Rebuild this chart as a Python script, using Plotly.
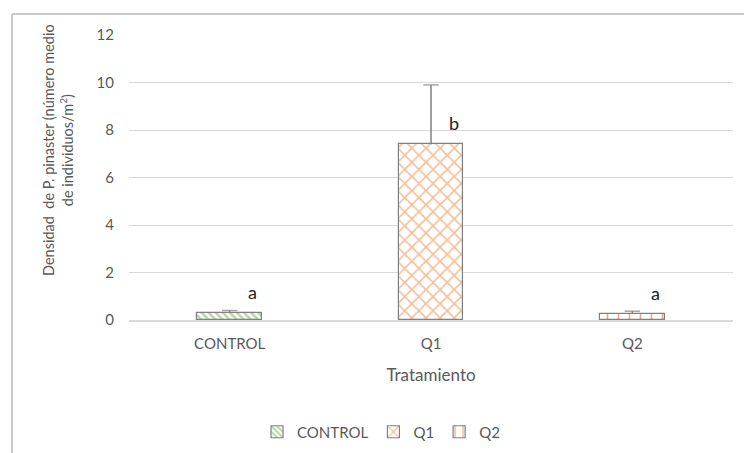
import plotly.graph_objects as go

# Tratamientos y densidad media de P. pinaster (individuos/m2)
categorias = ["CONTROL", "Q1", "Q2"]
densidad = [0.30, 7.4, 0.27]
error_sup = [0.10, 2.5, 0.10]
letras = ["a", "b", "a"]

colores = ["#70AD47", "#ED7D31", "#C55A11"]
patrones = ["\\", "x", "|"]
tamanos = [5, 10, 11]
solidez = [0.5, 0.3, 0.15]

W, H = 744, 453
ml, mr, mt, mb = 129, 11, 35, 133
pw, ph = W - ml - mr, H - mt - mb

FUENTE = "Lato, Open Sans, sans-serif"
GRIS = "#595959"

fig = go.Figure()
for i, cat in enumerate(categorias):
    fig.add_trace(go.Bar(
        x=[cat], y=[densidad[i]], name=cat, width=0.32,
        marker=dict(
            color="white",
            line=dict(color="#808080", width=1.2),
            pattern=dict(shape=patrones[i], fgcolor=colores[i], bgcolor="white",
                         size=tamanos[i], solidity=solidez[i], fillmode="overlay"),
        ),
    ))

# Barras de error (solo hacia arriba, con remate superior)
for i, cat in enumerate(categorias):
    fig.add_trace(go.Scatter(
        x=[cat, cat], y=[densidad[i], densidad[i] + error_sup[i]],
        mode="lines+markers", showlegend=False, hoverinfo="skip",
        line=dict(color="#808080", width=1.5),
        marker=dict(symbol=["line-ew-open", "line-ew-open"], size=[0, 11],
                    line=dict(color="#808080", width=1.5)),
    ))

# Letras de significación
for i, cat in enumerate(categorias):
    fig.add_annotation(x=cat, y=densidad[i], text=letras[i], showarrow=False,
                       xshift=23, yshift=21, font=dict(family=FUENTE, size=18, color="#222222"))

fig.update_layout(
    width=W, height=H,
    margin=dict(l=ml, r=mr, t=mt, b=mb, autoexpand=False),
    paper_bgcolor="white", plot_bgcolor="white",
    font=dict(family=FUENTE, color=GRIS, size=15),
    barmode="overlay", bargap=0,
    showlegend=True,
    legend=dict(orientation="h", x=(381 - ml) / pw, y=(320 - 432) / ph,
                xanchor="center", yanchor="middle",
                font=dict(family=FUENTE, size=15, color=GRIS), itemwidth=30,
                tracegroupgap=0),
    xaxis=dict(
        categoryorder="array", categoryarray=categorias, automargin=False,
        showgrid=False, showline=True, linecolor="#D9D9D9", linewidth=1.5,
        ticks="", ticklabelstandoff=9, tickfont=dict(size=15, color=GRIS),
        title=dict(text="Tratamiento", font=dict(size=17, color=GRIS), standoff=18),
    ),
    yaxis=dict(
        range=[0, 12], dtick=2, showgrid=True, gridcolor="#D9D9D9", gridwidth=1.3,
        zeroline=False, showline=False, ticks="", ticklabelstandoff=14, automargin=False,
        tickfont=dict(size=15, color=GRIS),
    ),
)

# Título del eje Y en dos líneas
fig.add_annotation(
    xref="paper", yref="paper",
    x=(58 - ml) / pw, y=1 - (150 - mt) / ph,
    text="Densidad\u00a0\u00a0de P. pinaster (número medio<br>de individuos/m<sup>2</sup>)",
    textangle=-90, showarrow=False, xanchor="center", yanchor="middle",
    font=dict(family=FUENTE, size=14.5, color=GRIS),
)

# Marco del gráfico: borde superior e izquierdo
x_izq = (12 - ml) / pw
y_sup = (320 - 14) / ph
fig.add_shape(type="line", xref="paper", yref="paper", layer="above",
              x0=x_izq, x1=(W - ml) / pw, y0=y_sup, y1=y_sup,
              line=dict(color="#C8C8C8", width=2))
fig.add_shape(type="line", xref="paper", yref="paper", layer="above",
              x0=x_izq, x1=x_izq, y0=y_sup, y1=(320 - H) / ph,
              line=dict(color="#C8C8C8", width=2))

fig.write_html("out.html", config={"displayModeBar": False})
